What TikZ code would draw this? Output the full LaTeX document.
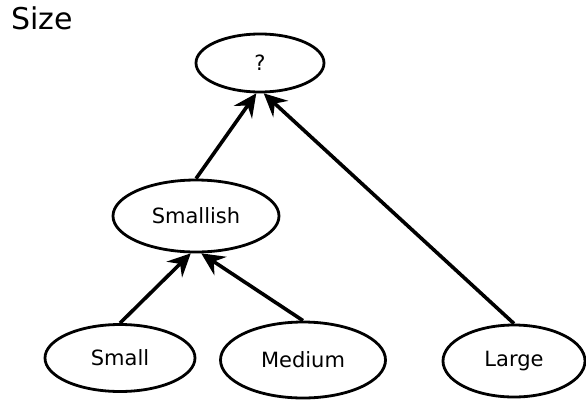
\documentclass[tikz,border=0pt]{standalone}
\usepackage{fontspec}
\setmainfont{DejaVu Sans}
\usetikzlibrary{shapes.geometric,arrows.meta}

\begin{document}
\begin{tikzpicture}[x=1pt,y=-1pt,
    val/.style={ellipse, draw, line width=2.8pt, inner sep=0pt,
                font=\fontsize{21}{24}\selectfont},
    link/.style={line width=3.6pt,
                 -{Stealth[length=23pt,width=22pt,inset=8pt]}}]

\useasboundingbox (0,0) rectangle (586,402); %same size as the image

\node [anchor=west, font=\fontsize{30}{34}\selectfont] (title) at (8,18) {Size};

% the unknown value on top
\node [val, minimum width=128pt, minimum height=58pt] (q) at (260,63) {?};

% the grouped value
\node [val, minimum width=166pt, minimum height=72pt] (smallish) at (196,216) {Smallish};

% the leaves
\node [val, minimum width=150pt, minimum height=67pt] (small) at (120,358) {Small};
\node [val, minimum width=165pt, minimum height=76pt] (medium) at (303,360) {Medium};
\node [val, minimum width=142pt, minimum height=72pt] (large) at (514,361) {Large};

\draw [link] (smallish.north) -- (q.263);
\draw [link] (large.north) -- (q.277);
\draw [link] (small.north) -- (smallish.262);
\draw [link] (medium.north) -- (smallish.278);

\end{tikzpicture}
\end{document}
